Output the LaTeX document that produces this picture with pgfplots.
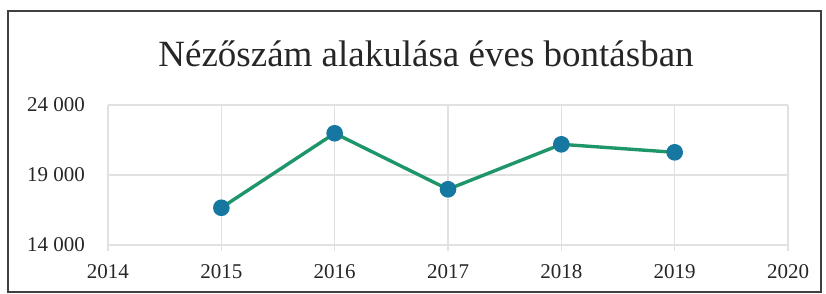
\documentclass[border=0pt]{standalone}
\usepackage{fontspec}
\setmainfont{Liberation Serif}
\usepackage{pgfplots}
\pgfplotsset{compat=1.18}
\definecolor{linegreen}{RGB}{30,150,105}
\definecolor{markblue}{RGB}{22,120,160}
\definecolor{gridgray}{RGB}{225,225,225}
\begin{document}
\begin{tikzpicture}
\useasboundingbox (-54pt,-24.5pt) rectangle (359pt,122.5pt);
\draw[line width=1pt, black!75] (-50pt,-23.5pt) rectangle (356.5pt,117pt);
\node[anchor=base, font=\fontsize{18.5}{22}\selectfont, text=black!85] at (159pt,89pt) {Nézőszám alakulása éves bontásban};
\begin{axis}[
  at={(0pt,0pt)}, anchor=origin,
  scale only axis,
  width=340pt, height=70pt,
  xmin=2014, xmax=2020, ymin=14000, ymax=24000,
  xtick={2014,2015,2016,2017,2018,2019,2020},
  ytick={14000,19000,24000},
  yticklabels={14 000,19 000,24 000},
  scaled y ticks=false,
  xticklabel style={/pgf/number format/1000 sep={}},
  /pgf/number format/assume math mode=true,
  tick label style={font=\fontsize{10.5}{12}\selectfont, text=black!85},
  ymajorgrids, xmajorgrids,
  grid style={gridgray, line width=0.6pt},
  axis line style={draw=none},
  axis x line*=bottom, axis y line*=left,
  x axis line style={draw=gridgray, line width=0.8pt},
  y axis line style={draw=none},
  xtick style={draw=gridgray, line width=0.6pt},
  ytick style={draw=none},
  tick align=outside, major tick length=3pt,
  xticklabel style={yshift=-3pt},
  yticklabel style={xshift=-5pt},
  clip=false,
]
\addplot[color=linegreen, line width=1.7pt, mark=*, mark size=3.3pt,
  mark options={fill=markblue, draw=markblue}]
  coordinates {(2015,16660) (2016,21980) (2017,17980) (2018,21190) (2019,20620)};
\end{axis}
\end{tikzpicture}
\end{document}
